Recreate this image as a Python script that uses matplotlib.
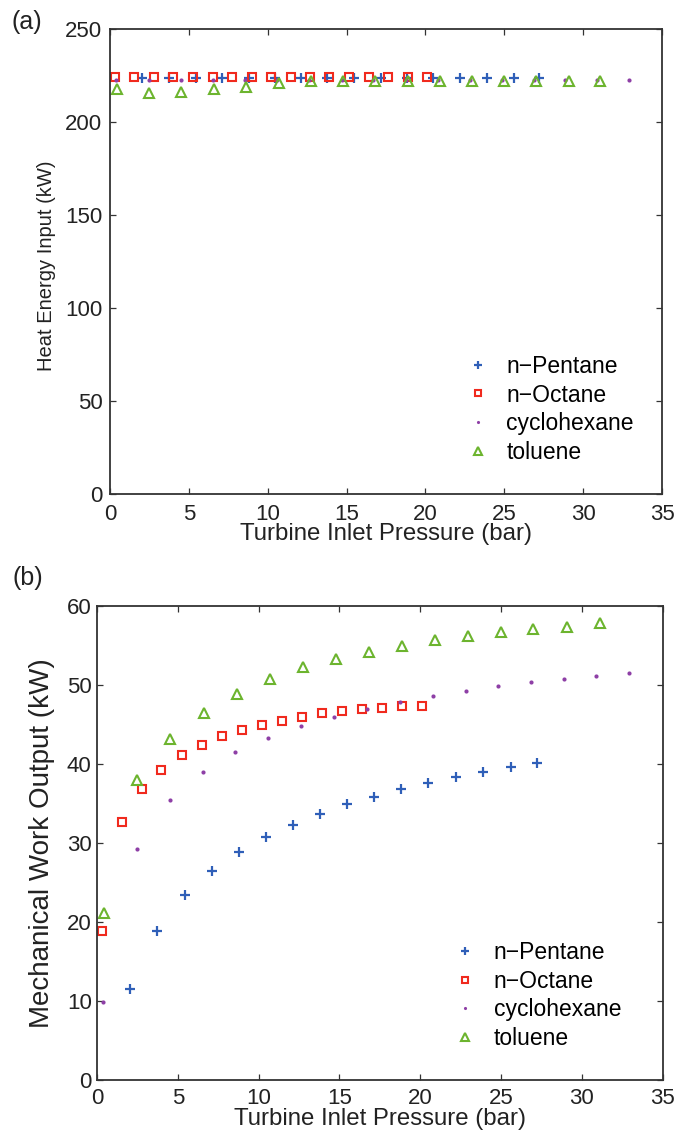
import matplotlib
matplotlib.use("Agg")
import matplotlib.pyplot as plt

plt.rcParams['font.family'] = ['Liberation Sans', 'DejaVu Sans']

# ---------------- data ----------------
fluids = ["n\u2212Pentane", "n\u2212Octane", "cyclohexane", "toluene"]

pentane_p = [2.04, 3.73, 5.43, 7.12, 8.79, 10.44, 12.13, 13.78, 15.47, 17.16,
             18.8, 20.5, 22.2, 23.9, 25.6, 27.2]
pentane_q = [223.5] * 16
pentane_w = [11.5, 18.9, 23.4, 26.5, 28.8, 30.7, 32.3, 33.7, 34.9, 35.8,
             36.8, 37.6, 38.3, 39.0, 39.6, 40.1]

octane_p = [0.33, 1.53, 2.77, 3.98, 5.24, 6.52, 7.74, 9.0, 10.21, 11.45,
            12.69, 13.9, 15.18, 16.42, 17.64, 18.9, 20.1]
octane_q = [224.2] * 17
octane_w = [18.9, 32.6, 36.8, 39.3, 41.1, 42.4, 43.5, 44.3, 45.0, 45.5,
            46.0, 46.4, 46.7, 46.9, 47.1, 47.3, 47.4]

cyclo_p = [0.39, 2.47, 4.5, 6.54, 8.56, 10.6, 12.62, 14.68, 16.69, 18.75,
           20.77, 22.8, 24.83, 26.86, 28.88, 30.9, 32.9]
cyclo_q = [222.5] * 17
cyclo_w = [9.9, 29.3, 35.4, 39.0, 41.5, 43.3, 44.8, 46.0, 47.0, 47.9,
           48.6, 49.3, 49.9, 50.4, 50.8, 51.2, 51.5]

toluene_p = [0.43, 2.49, 4.52, 6.62, 8.64, 10.7, 12.73, 14.79, 16.81, 18.9,
             20.9, 22.98, 25.0, 27.0, 29.1, 31.1]
toluene_q = [217.5, 215.5, 216.0, 217.5, 219.0, 221.0, 222.0, 222.0, 222.0,
             222.0, 222.0, 222.0, 222.0, 222.0, 222.0, 222.0]
toluene_w = [21.1, 38.0, 43.2, 46.5, 48.9, 50.8, 52.3, 53.3, 54.2, 54.9,
             55.7, 56.2, 56.7, 57.1, 57.4, 57.8]

x_ticks = [0, 5, 10, 15, 20, 25, 30, 35]
q_ticks = [0, 50, 100, 150, 200, 250]
w_ticks = [0, 10, 20, 30, 40, 50, 60]

# ---------------- style ----------------
c_pent = "#2f5fb8"
c_oct = "#f02a1e"
c_cyc = "#8e3fa6"
c_tol = "#6cb42e"
c_txt = "#222222"

W, H = 679, 1136
fig = plt.figure(figsize=(W / 100, H / 100), dpi=100)

ax1 = fig.add_axes([110 / W, 1 - 494 / H, 552 / W, 465 / H])
ax2 = fig.add_axes([97 / W, 1 - 1080 / H, 565.7 / W, 474 / H])


def draw(ax, yp, yo, yc, yt):
    ax.plot(pentane_p, yp, linestyle='none', marker='+', markersize=7,
            markeredgewidth=1.6, color=c_pent, label=fluids[0])
    ax.plot(octane_p, yo, linestyle='none', marker='s', markersize=6,
            markeredgewidth=1.5, markerfacecolor='none', color=c_oct,
            label=fluids[1])
    ax.plot(cyclo_p, yc, linestyle='none', marker='o', markersize=3,
            markeredgewidth=0, color=c_cyc, label=fluids[2])
    ax.plot(toluene_p, yt, linestyle='none', marker='^', markersize=7,
            markeredgewidth=1.5, markerfacecolor='none', color=c_tol,
            label=fluids[3])


draw(ax1, pentane_q, octane_q, cyclo_q, toluene_q)
draw(ax2, pentane_w, octane_w, cyclo_w, toluene_w)

for ax, yt, xpad, ypad, lpad in ((ax1, q_ticks, 7, 5.5, -1.5),
                                 (ax2, w_ticks, 5.5, 3.8, -0.5)):
    ax.set_xlim(0, 35)
    ax.set_ylim(yt[0], yt[-1])
    ax.set_xticks(x_ticks)
    ax.set_yticks(yt)
    ax.tick_params(direction='in', top=True, right=True, length=4,
                   width=0.9, colors='#333333', labelcolor=c_txt,
                   labelsize=16)
    ax.tick_params(axis='x', pad=xpad)
    ax.tick_params(axis='y', pad=ypad)
    for s in ax.spines.values():
        s.set_color('#333333')
        s.set_linewidth(1.3)
    ax.set_xlabel("Turbine Inlet Pressure (bar)", fontsize=17.3,
                  color=c_txt, labelpad=lpad)

ax1.set_ylabel("Heat Energy Input (kW)", fontsize=14.5, color=c_txt)
ax1.yaxis.set_label_coords(-0.098, 0.49)
ax2.set_ylabel("Mechanical Work Output (kW)", fontsize=20, color=c_txt)
ax2.yaxis.set_label_coords(-0.074, 0.5)

leg_kw = dict(loc='center left', frameon=False, fontsize=16.5,
              handlelength=0.8, handletextpad=0.83, borderpad=0,
              borderaxespad=0, labelspacing=0.25, markerscale=0.75)
ax1.legend(bbox_to_anchor=(0.650, 0.182), **leg_kw)
ax2.legend(bbox_to_anchor=(0.635, 0.178), **leg_kw)

fig.text(27 / W, 1 - 22 / H, "(a)", fontsize=18, color=c_txt,
         ha='center', va='center')
fig.text(27.5 / W, 1 - 578 / H, "(b)", fontsize=18, color=c_txt,
         ha='center', va='center')

fig.savefig("out.png", dpi=100)
